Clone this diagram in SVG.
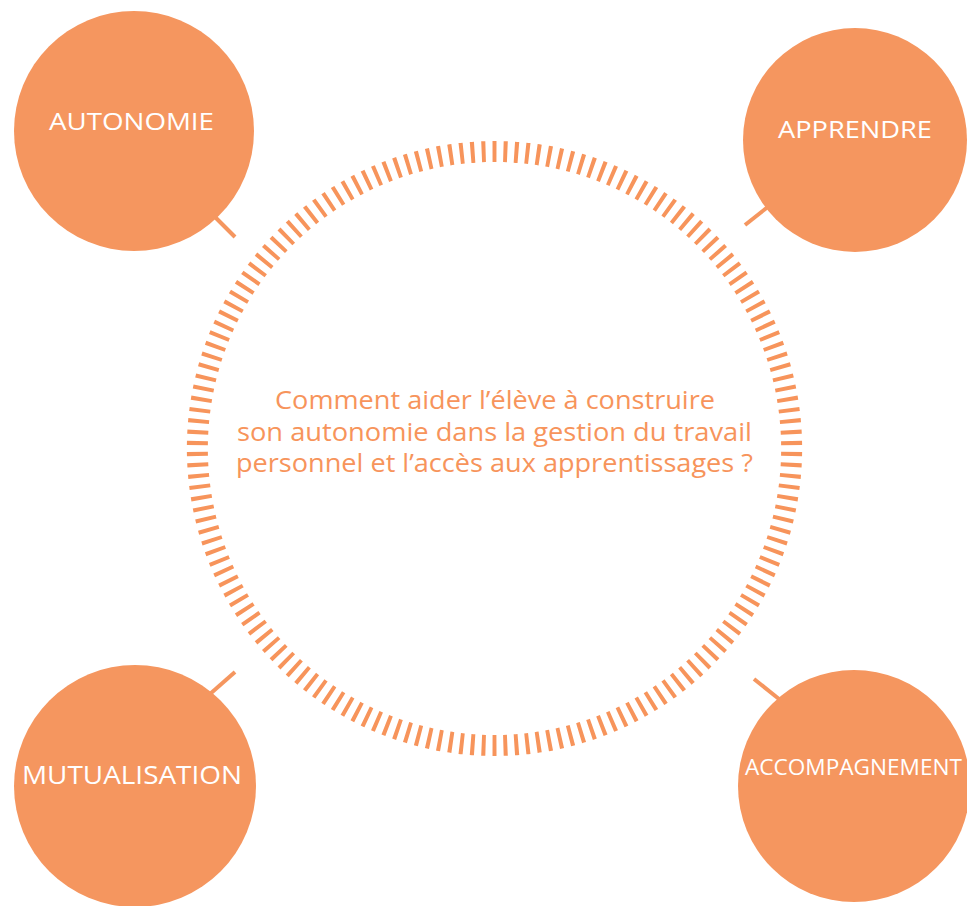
<svg xmlns="http://www.w3.org/2000/svg" width="967" height="906" viewBox="0 0 967 906">
<style>
.bubble{fill:#F5965F}
.lbl{fill:#ffffff;font-family:"Open Sans","Liberation Sans",sans-serif;font-weight:400;text-anchor:middle}
.q{fill:#F7945B;font-family:"Open Sans","Liberation Sans",sans-serif;font-size:25px;text-anchor:middle}
.conn{stroke:#F5965F;stroke-width:4;stroke-linecap:butt;fill:none}
.ring{stroke:#F7945B;stroke-width:21;fill:none;stroke-dasharray:4 7;stroke-dashoffset:2}
</style>
<rect width="967" height="906" fill="#ffffff"/>
<g id="ring">
<path class="ring" pathLength="1870" d="M 494.5 745.5 A 297 297 0 1 1 494.5 151.5 A 297 297 0 1 1 494.5 745.5"/>
</g>
<g id="connectors">
<line class="conn" x1="214" y1="216" x2="235" y2="237"/>
<line class="conn" x1="769" y1="206" x2="745" y2="225"/>
<line class="conn" x1="210" y1="694" x2="235" y2="672"/>
<line class="conn" x1="779" y1="699" x2="754" y2="679"/>
</g>
<g id="center-question">
<text class="q" x="495" y="409" textLength="440" lengthAdjust="spacingAndGlyphs">Comment aider l’élève à construire</text>
<text class="q" x="494.5" y="441" textLength="515" lengthAdjust="spacingAndGlyphs">son autonomie dans la gestion du travail</text>
<text class="q" x="494.5" y="472" textLength="517" lengthAdjust="spacingAndGlyphs">personnel et l’accès aux apprentissages ?</text>
</g>
<g id="autonomie">
<circle class="bubble" cx="134" cy="131" r="120"/>
<text class="lbl" x="131.5" y="130" font-size="23" textLength="165" lengthAdjust="spacingAndGlyphs">AUTONOMIE</text>
</g>
<g id="apprendre">
<circle class="bubble" cx="855" cy="140" r="112"/>
<text class="lbl" x="855" y="138" font-size="24" textLength="154" lengthAdjust="spacingAndGlyphs">APPRENDRE</text>
</g>
<g id="mutualisation">
<circle class="bubble" cx="135" cy="786" r="121"/>
<text class="lbl" x="132" y="784" font-size="25" textLength="220" lengthAdjust="spacingAndGlyphs">MUTUALISATION</text>
</g>
<g id="accompagnement">
<circle class="bubble" cx="854" cy="786" r="116"/>
<text class="lbl" x="853.5" y="775" font-size="21" textLength="217" lengthAdjust="spacingAndGlyphs">ACCOMPAGNEMENT</text>
</g>
</svg>
